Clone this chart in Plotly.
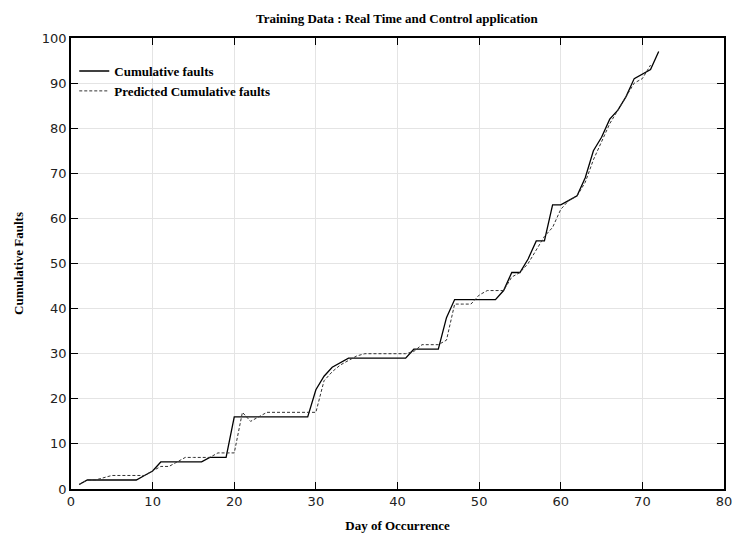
import plotly.graph_objects as go

days_actual = list(range(1, 73))
cum_faults = [1, 2, 2, 2, 2, 2, 2, 2, 3, 4,
              6, 6, 6, 6, 6, 6, 7, 7, 7, 16,
              16, 16, 16, 16, 16, 16, 16, 16, 16, 22,
              25, 27, 28, 29, 29, 29, 29, 29, 29, 29,
              29, 31, 31, 31, 31, 38, 42, 42, 42, 42,
              42, 42, 44, 48, 48, 51, 55, 55, 63, 63,
              64, 65, 69, 75, 78, 82, 84, 87, 91, 92,
              93, 97]

days_pred = list(range(1, 72))
pred_faults = [1, 2, 2, 2.5, 3, 3, 3, 3, 3, 4,
               5, 5, 6, 7, 7, 7, 7, 8, 8, 8,
               17, 15, 16, 17, 17, 17, 17, 17, 17, 17,
               24, 26, 27.5, 28.5, 29.5, 30, 30, 30, 30, 30,
               30, 30.5, 32, 32, 32, 33, 41, 41, 41, 43,
               44, 44, 44, 47, 48, 50, 53, 56, 58, 62,
               64, 65, 68, 73, 77, 81, 84, 87, 90, 91,
               94]

x_ticks = [0, 10, 20, 30, 40, 50, 60, 70, 80]
y_ticks = [0, 10, 20, 30, 40, 50, 60, 70, 80, 90, 100]

serif = "Liberation Serif"

fig = go.Figure()
fig.add_trace(go.Scatter(x=days_actual, y=cum_faults, mode="lines",
                         name="<b>Cumulative faults</b>",
                         line=dict(color="black", width=1.3)))
fig.add_trace(go.Scatter(x=days_pred, y=pred_faults, mode="lines",
                         name="<b>Predicted Cumulative faults</b>",
                         line=dict(color="#333333", width=1, dash="3px,2px")))

axis_common = dict(showline=True, linecolor="black", linewidth=1.5, mirror="ticks",
                   ticks="inside", ticklen=7, tickcolor="black", tickwidth=1.2,
                   showgrid=True, gridcolor="#e4e4e4", gridwidth=1, zeroline=False,
                   automargin=False,
                   tickfont=dict(family="DejaVu Sans", size=13, color="#222222"))

fig.update_layout(
    width=735, height=533,
    margin=dict(l=71, r=11, t=38, b=44, autoexpand=False),
    paper_bgcolor="white", plot_bgcolor="white",
    title=dict(text="<b>Training Data : Real Time and Control application</b>",
               x=0.54, xanchor="center", y=0.965, yanchor="middle",
               font=dict(family=serif, size=13, color="black")),
    xaxis=dict(range=[0, 80], tickvals=x_ticks,
               title=dict(text="<b>Day of Occurrence</b>",
                          font=dict(family=serif, size=13, color="black")),
               **axis_common),
    yaxis=dict(range=[0, 100], tickvals=y_ticks,
               title=dict(text="<b>Cumulative Faults</b>",
                          font=dict(family=serif, size=13, color="black")),
               **axis_common),
    legend=dict(x=0.005, y=0.96, xanchor="left", yanchor="top",
                bgcolor="rgba(0,0,0,0)", borderwidth=0,
                itemwidth=30, tracegroupgap=0,
                font=dict(family=serif, size=13, color="black")),
    showlegend=True,
)

fig.write_html("out.html")
